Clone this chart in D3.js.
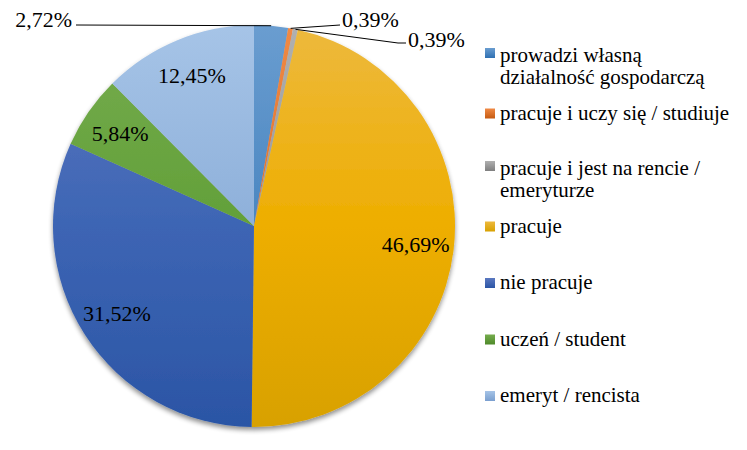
<!DOCTYPE html>
<html>
<head>
<meta charset="utf-8">
<script src="https://cdn.jsdelivr.net/npm/d3@7"></script>
<style>
  html, body { margin: 0; padding: 0; background: #fff; }
  svg { display: block; }
</style>
</head>
<body>
<svg id="chart" width="747" height="450"></svg>
<script>
// Categories and shares (%), clockwise from 12 o'clock
const categories = [
  "prowadzi własną działalność gospodarczą",
  "pracuje i uczy się / studiuje",
  "pracuje i jest na rencie / emeryturze",
  "pracuje",
  "nie pracuje",
  "uczeń / student",
  "emeryt / rencista"
];
const values = [2.72, 0.39, 0.39, 46.69, 31.52, 5.84, 12.45];
// legend text split into lines as in the original
const legendLines = [
  ["prowadzi własną", "działalność gospodarczą"],
  ["pracuje i uczy się / studiuje"],
  ["pracuje i jest na rencie /", "emeryturze"],
  ["pracuje"],
  ["nie pracuje"],
  ["uczeń / student"],
  ["emeryt / rencista"]
];
// gradient stops: top, middle, bottom
const colors = [
  ["#6a9dd0", "#4a86c1", "#2f70b2"],
  ["#f08a45", "#e0702a", "#c55a11"],
  ["#b0b0b0", "#999999", "#7f7f7f"],
  ["#edb93e", "#eeae00", "#d8a100"],
  ["#5b78c0", "#3d65b4", "#2b55a5"],
  ["#76ac4e", "#62a039", "#4e8a2a"],
  ["#a6c4e7", "#8eb0da", "#7a9fcf"]
];

const svg = d3.select("#chart");
const cx = 254, cy = 226, r = 201;
const FONT = '"Liberation Serif"';
const fmt = v => d3.format(".2f")(v).replace(".", ",") + "%";

const defs = svg.append("defs");
colors.forEach((c, i) => {
  // pie gradients run top to bottom over the whole pie (group coordinates)
  const g = defs.append("linearGradient")
    .attr("id", "grad" + i)
    .attr("gradientUnits", "userSpaceOnUse")
    .attr("x1", 0).attr("y1", -r)
    .attr("x2", 0).attr("y2", r);
  g.append("stop").attr("offset", "0%").attr("stop-color", c[0]);
  g.append("stop").attr("offset", "50%").attr("stop-color", c[1]);
  g.append("stop").attr("offset", "100%").attr("stop-color", c[2]);
  const m = defs.append("linearGradient")
    .attr("id", "mgrad" + i)
    .attr("x1", 0).attr("y1", 0).attr("x2", 0).attr("y2", 1);
  m.append("stop").attr("offset", "0%").attr("stop-color", c[0]);
  m.append("stop").attr("offset", "100%").attr("stop-color", c[2]);
});

const shadow = defs.append("filter").attr("id", "shadow")
  .attr("x", "-10%").attr("y", "-10%").attr("width", "120%").attr("height", "125%");
shadow.append("feGaussianBlur").attr("in", "SourceAlpha").attr("stdDeviation", 2.5).attr("result", "blur");
shadow.append("feOffset").attr("in", "blur").attr("dy", 3).attr("result", "off");
shadow.append("feComponentTransfer").attr("in", "off").attr("result", "soft")
  .append("feFuncA").attr("type", "linear").attr("slope", 0.45);
const fm = shadow.append("feMerge");
fm.append("feMergeNode").attr("in", "soft");
fm.append("feMergeNode").attr("in", "SourceGraphic");

const pie = d3.pie().sort(null).value(d => d)(values);
const arc = d3.arc().innerRadius(0).outerRadius(r);
const edge = d3.arc().innerRadius(r).outerRadius(r);
const inside = d3.arc().innerRadius(r * 0.81).outerRadius(r * 0.81);

const g = svg.append("g").attr("transform", `translate(${cx},${cy})`);
g.append("g").attr("filter", "url(#shadow)")
  .selectAll("path")
  .data(pie)
  .enter().append("path")
  .attr("d", arc)
  .attr("fill", (d, i) => `url(#grad${i})`);

// labels inside larger slices
const big = pie.filter(d => d.value >= 5);
g.selectAll("text.in")
  .data(big)
  .enter().append("text")
  .attr("class", "in")
  .attr("x", d => inside.centroid(d)[0])
  .attr("y", d => inside.centroid(d)[1])
  .attr("text-anchor", "middle")
  .attr("dy", "0.33em")
  .style("font-family", FONT)
  .style("font-size", "22px")
  .attr("fill", "#000")
  .text(d => fmt(d.value));

// outside labels for the thin slices; leader line from the arc midpoint
// label positions are relative to the top of the pie
const outside = [
  { idx: 0, lx: -178, ly: -5, path: [[-178, 0]], anchor: "end" },
  { idx: 1, lx: 86, ly: -5, path: [[86, 0]], anchor: "start" },
  { idx: 2, lx: 152, ly: 15, path: [[144, 18], [152, 18]], anchor: "start" }
];
outside.forEach(o => {
  const d = pie[o.idx];
  const p = edge.centroid(d);
  const pts = [p].concat(o.path.map(q => [q[0], q[1] - r]));
  g.append("path")
    .attr("d", d3.line()(pts))
    .attr("fill", "none")
    .attr("stroke", "#000")
    .attr("stroke-width", 1);
  g.append("text")
    .attr("x", o.anchor === "end" ? o.lx - 4 : o.lx + 2)
    .attr("y", o.ly - r)
    .attr("dy", "0.33em")
    .attr("text-anchor", o.anchor)
    .style("font-family", FONT)
    .style("font-size", "22px")
    .text(fmt(d.value));
});

// legend
const legendY = d3.scaleLinear().domain([0, 6]).range([63, 402]);
const leg = svg.append("g").attr("class", "legend");
legendLines.forEach((lines, i) => {
  const y = legendY(i) - (lines.length > 1 ? 1 : 0);
  leg.append("rect")
    .attr("x", 485)
    .attr("y", y - (lines.length > 1 ? 14 : 11))
    .attr("width", 10).attr("height", 10)
    .attr("fill", `url(#mgrad${i})`);
  const t = leg.append("text")
    .attr("x", 500).attr("y", y)
    .style("font-family", FONT)
    .style("font-size", "21px")
    .attr("fill", "#000");
  lines.forEach((ln, k) => {
    t.append("tspan").attr("x", 500).attr("dy", k === 0 ? 0 : 22).text(ln);
  });
});
</script>
</body>
</html>
